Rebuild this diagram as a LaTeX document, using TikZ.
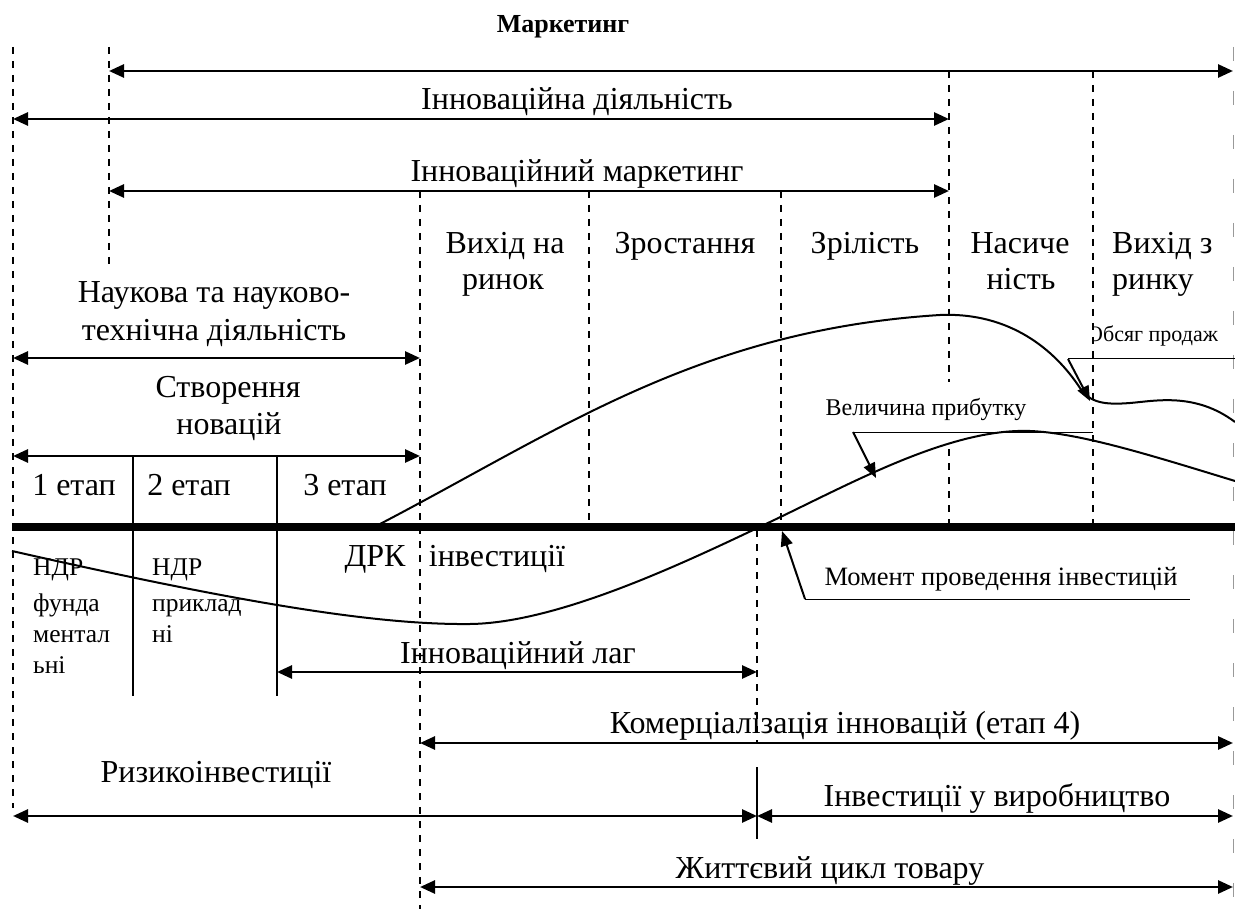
\documentclass[tikz,border=0pt]{standalone}
\usepackage{fontspec}
\setmainfont{Liberation Serif}
\usetikzlibrary{arrows.meta}
\newcommand\lblfont{\fontsize{32}{37}\selectfont}
\newcommand\notefont{\fontsize{24}{29}\selectfont}
\newcommand\ndrfont{\fontsize{25.5}{30}\selectfont}
\newcommand\headfont{\fontsize{26}{30}\selectfont\bfseries}
\begin{document}
\begin{tikzpicture}[x=1pt,y=-1pt,
  guide/.style={line width=1.3pt, dash pattern=on 7pt off 7pt},
  edgeguide/.style={line width=1.3pt, black!40, dash pattern=on 14pt off 30pt},
  span/.style={line width=2.7pt, {Triangle[length=15pt,width=13pt]}-{Triangle[length=15pt,width=13pt]}},
  axisline/.style={line width=7.5pt},
  divider/.style={line width=1.6pt},
  curve/.style={line width=2pt, line join=round},
  leader/.style={line width=1pt},
  pointer/.style={line width=2pt, -{Triangle[length=15pt,width=12pt]}},
  lbl/.style={inner sep=0pt, anchor=base, font=\lblfont},
  note/.style={inner sep=0pt, anchor=base, font=\notefont},
  ndr/.style={inner sep=0pt, anchor=base west, font=\ndrfont},
  head/.style={inner sep=0pt, anchor=base, font=\headfont},
]
\fill[white] (0,0) rectangle (1235,909);
\useasboundingbox (0,0) rectangle (1235,909);

% ---- labels under everything else ----
\node[note, font=\fontsize{22}{26}\selectfont, anchor=base west] (tSv) at (1087,342) {Обсяг продаж};
% the sales label box starts at the saturation boundary
\fill[white] (1080,322) rectangle (1092.3,348);

% ---- vertical guide lines ----
\draw[guide] (13,47) -- (13,808);
\draw[guide] (109,47) -- (109,265);
\draw[guide] (420,191) -- (420,909);
\draw[guide] (589,191) -- (589,524);
\draw[guide] (781,191) -- (781,524);
\draw[guide] (949,71) -- (949,524);
\draw[guide] (1093,71) -- (1093,524);
\draw[guide] (757,530) -- (757,743);
\draw[edgeguide] (1233.5,47) -- (1233.5,909);

% white field behind the profit label
\fill[white] (823,382) rectangle (1029,446);

% ---- span end points ----
\coordinate (mkL) at (109,71);   \coordinate (mkR) at (1233,71);
\coordinate (idL) at (13,119);   \coordinate (idR) at (949,119);
\coordinate (imL) at (109,191);  \coordinate (imR) at (949,191);
\coordinate (ntL) at (13,358);   \coordinate (ntR) at (420,358);
\coordinate (snL) at (13,456);   \coordinate (snR) at (420,456);
\coordinate (lgL) at (277,672);  \coordinate (lgR) at (757,672);
\coordinate (kmL) at (420,743);  \coordinate (kmR) at (1233,743);
\coordinate (riL) at (13,816);   \coordinate (riM) at (757,816);
\coordinate (ivR) at (1233,816);
\coordinate (zhL) at (420,887);  \coordinate (zhR) at (1233,887);

\draw[span] (mkL) -- (mkR);
\draw[span] (idL) -- (idR);
\draw[span] (imL) -- (imR);
\draw[span] (ntL) -- (ntR);
\draw[span] (snL) -- (snR);
\draw[span] (lgL) -- (lgR);
\draw[span] (kmL) -- (kmR);
\draw[span] (riL) -- (riM);
\draw[span] (riM) -- (ivR);
\draw[span] (zhL) -- (zhR);

% ---- stage dividers ----
\draw[divider] (133,456) -- (133,696);
\draw[divider] (277,456) -- (277,696);
\draw[divider] (757,767) -- (757,839);

% ---- time axis ----
\draw[axisline] (12,527) -- (1235,527);

% ---- sales volume curve ----
\draw[curve] (380,524) .. controls (560,430) and (700,330) .. (940,315)
  .. controls (1010,312) and (1055,350) .. (1080,388)
  .. controls (1090,403) and (1105,405) .. (1130,403)
  .. controls (1155,401) and (1195,392) .. (1235,422);

% ---- profit curve ----
\draw[curve] (12,551) .. controls (250,605) and (380,625) .. (470,624)
  .. controls (560,623) and (690,560) .. (770,522)
  .. controls (850,484) and (950,428) .. (1030,431)
  .. controls (1080,433) and (1150,455) .. (1235,481);

% ---- callouts ----
\coordinate (pfK) at (853,432);  \coordinate (pfE) at (1093,432);
\coordinate (pfT) at (876,478);
\draw[leader] (pfK) -- (pfE);
\draw[pointer] (pfK) -- (pfT);

\coordinate (svK) at (1068,359); \coordinate (svE) at (1235,359);
\coordinate (svT) at (1090,401);
\draw[leader] (svK) -- (svE);
\draw[pointer] (svK) -- (svT);

\coordinate (mmK) at (805,599);  \coordinate (mmE) at (1190,599);
\coordinate (mmT) at (782,531);
\draw[leader] (mmK) -- (mmE);
\draw[pointer] (mmK) -- (mmT);

% ---- labels ----
\node[head] (tMk) at (563,33) {Маркетинг};
\node[lbl] (tId) at (577,110) {Інноваційна діяльність};
\node[lbl] (tIm) at (577,182) {Інноваційний маркетинг};

\node[lbl] (tV1a) at (505,254) {Вихід на};
\node[lbl] (tV1b) at (503,290) {ринок};
\node[lbl] (tZr) at (685,254) {Зростання};
\node[lbl] (tZl) at (865,254) {Зрілість};
\node[lbl] (tNa) at (1020,254) {Насиче};
\node[lbl] (tNb) at (1021,290) {ність};
\node[lbl, anchor=base west] (tV2a) at (1112,254) {Вихід з};
\node[lbl, anchor=base west] (tV2b) at (1112,290) {ринку};

\node[lbl] (tNt1) at (214,303) {Наукова та науково-};
\node[lbl] (tNt2) at (214,341) {технічна діяльність};
\node[lbl] (tSn1) at (228,398) {Створення};
\node[lbl] (tSn2) at (229,435) {новацій};

\node[lbl] (tE1) at (74,495) {1 етап};
\node[lbl] (tE2) at (189,495) {2 етап};
\node[lbl] (tE3) at (345,495) {3 етап};

\node[lbl] (tDrk) at (375,566) {ДРК};
\node[lbl] (tInv) at (497,566) {інвестиції};

\node[ndr] (tF1) at (33,575) {НДР};
\node[ndr] (tF2) at (33,611) {фунда};
\node[ndr] (tF3) at (33,642) {ментал};
\node[ndr] (tF4) at (33,673) {ьні};
\node[ndr] (tP1) at (152,575) {НДР};
\node[ndr] (tP2) at (152,611) {приклад};
\node[ndr] (tP3) at (152,642) {ні};

\node[lbl] (tLag) at (518,663) {Інноваційний лаг};
\node[lbl] (tKm) at (845,733) {Комерціалізація інновацій (етап 4)};
\node[lbl] (tRi) at (216,782) {Ризикоінвестиції};
\node[lbl] (tIv) at (997,806) {Інвестиції у виробництво};
\node[lbl] (tZh) at (830,878) {Життєвий цикл товару};

\node[note] (tPf) at (926,415) {Величина прибутку};
\node[note, font=\fontsize{26.5}{31}\selectfont] (tMm) at (1001,585) {Момент проведення інвестицій};
\end{tikzpicture}
\end{document}
